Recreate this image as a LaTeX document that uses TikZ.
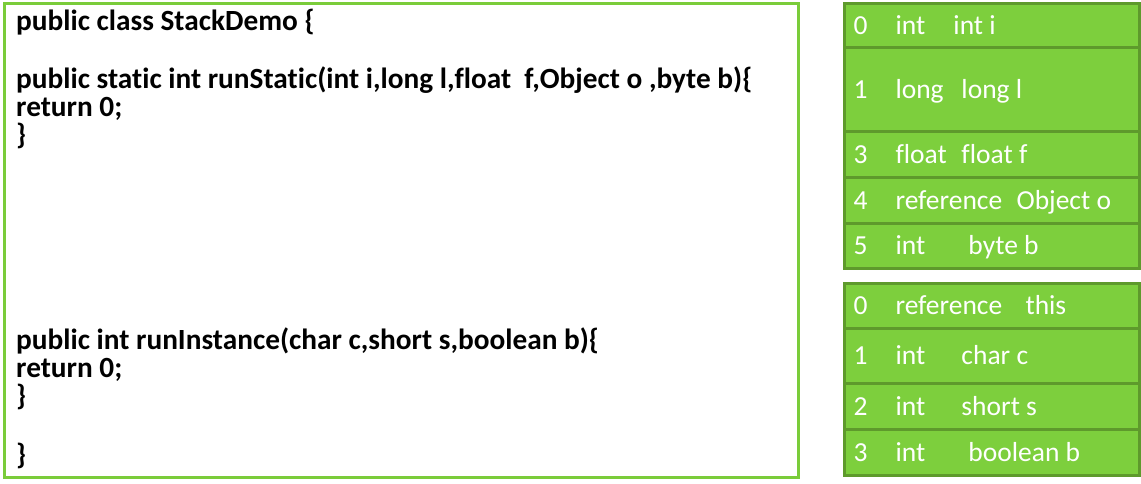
\documentclass[tikz,border=0pt]{standalone}
\usepackage{fontspec}
\setmainfont{Carlito}[Ligatures=CommonOff]
\usetikzlibrary{positioning}
\definecolor{jvgreen}{HTML}{7DCF3D}
\definecolor{jvframe}{HTML}{7ACC3A}
\definecolor{jvdark}{HTML}{5E9A2C}
\newcommand{\slotrow}[4]{\makebox[42pt][l]{#1}\makebox[#3][l]{#2}#4}

\begin{document}
\begin{tikzpicture}[x=1pt, y=-1pt,
    codeline/.style={anchor=base west, inner sep=0pt, font=\fontsize{29.3}{31}\selectfont\bfseries},
    slot/.style={draw=jvdark, fill=jvgreen, line width=3pt, text=white,
          minimum width=295pt, inner xsep=0pt, inner ysep=0pt,
          text height=20pt, text depth=2pt, font=\fontsize{27.5}{29}\selectfont}]
    \useasboundingbox (0,0) rectangle (1141,484);

    % source code panel
    \node[draw=jvframe, line width=3pt, minimum width=794pt, minimum height=474pt] (frame) at (401.5,240.5) {};
    \node[codeline] (c1) at (16,31) {public class StackDemo \{};
    \node[codeline] (c2) at (16,89) {public static int runStatic(int i,long l,float~ f,Object o ,byte b)\{};
    \node[codeline] (c3) at (16,117) {return 0;};
    \node[codeline] (c4) at (16,145) {\}};
    \node[codeline] (c5) at (16,349) {public int runInstance(char c,short s,boolean b)\{};
    \node[codeline] (c6) at (16,377) {return 0;};
    \node[codeline] (c7) at (16,405) {\}};
    \node[codeline] (c8) at (16,464) {\}};

    % local variable table of runStatic
    \node[slot, minimum height=44.5pt] (s0) at (992,25.75) {\makebox[277pt][l]{\slotrow{0}{int}{58pt}{int i}}};
    \node[slot, minimum height=84pt] (s1) at (992,90) {\makebox[277pt][l]{\slotrow{1}{long}{66pt}{long l}}};
    \node[slot, minimum height=45.5pt] (s2) at (992,154.75) {\makebox[277pt][l]{\slotrow{3}{float}{66pt}{float f}}};
    \node[slot, minimum height=45.5pt] (s3) at (992,200.25) {\makebox[277pt][l]{\slotrow{4}{reference}{121pt}{Object o}}};
    \node[slot, minimum height=45pt] (s4) at (992,245.5) {\makebox[277pt][l]{\slotrow{5}{int}{73pt}{byte b}}};

    % local variable table of runInstance
    \node[slot, minimum height=44.5pt] (t0) at (992,305.75) {\makebox[277pt][l]{\slotrow{0}{reference}{130pt}{this}}};
    \node[slot, minimum height=55pt] (t1) at (992,355.5) {\makebox[277pt][l]{\slotrow{1}{int}{66pt}{char c}}};
    \node[slot, minimum height=46pt] (t2) at (992,406) {\makebox[277pt][l]{\slotrow{2}{int}{66pt}{short s}}};
    \node[slot, minimum height=46pt] (t3) at (992,452) {\makebox[277pt][l]{\slotrow{3}{int}{73pt}{boolean b}}};
\end{tikzpicture}
\end{document}
